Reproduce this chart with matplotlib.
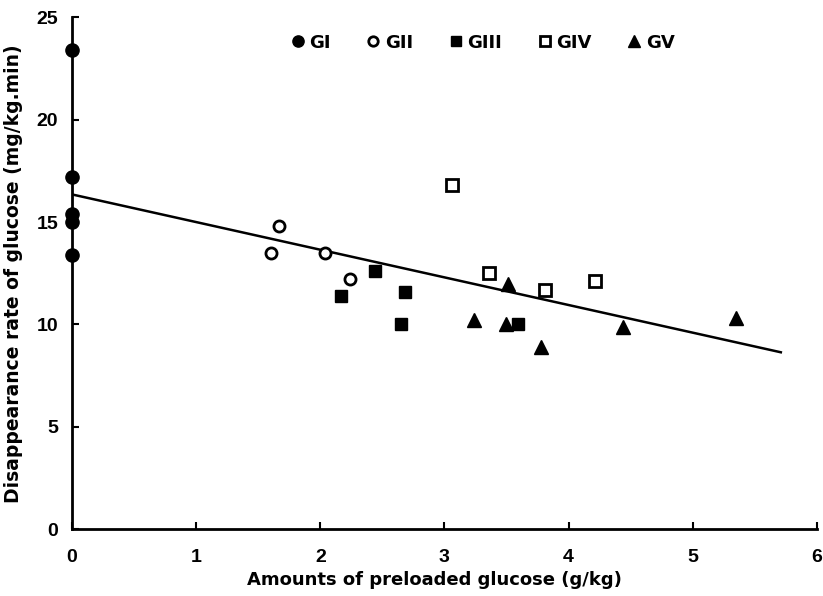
import matplotlib
matplotlib.use("Agg")
import matplotlib.pyplot as plt

plt.rcParams['font.family'] = ['DejaVu Sans']
plt.rcParams['font.weight'] = 'bold'

# Data
gI_x = [0.0, 0.0, 0.0, 0.0, 0.0]
gI_y = [23.4, 17.2, 15.4, 15.0, 13.4]
gII_x = [1.60, 1.67, 2.04, 2.24]
gII_y = [13.5, 14.8, 13.5, 12.2]
gIII_x = [2.17, 2.44, 2.68, 2.65, 3.59]
gIII_y = [11.4, 12.6, 11.6, 10.0, 10.0]
gIV_x = [3.06, 3.36, 3.81, 4.21]
gIV_y = [16.8, 12.5, 11.7, 12.1]
gV_x = [3.24, 3.51, 3.50, 3.78, 4.44, 5.35]
gV_y = [10.2, 12.0, 10.0, 8.9, 9.9, 10.3]

line_intercept = 16.35
line_slope = -1.35
line_x = [0.0, 5.71]

xticks = [0, 1, 2, 3, 4, 5, 6]
yticks = [0, 5, 10, 15, 20, 25]

fig = plt.figure(figsize=(8.23, 5.96), dpi=100)
ax = fig.add_axes([0.0875, 0.112, 0.905, 0.859])

ax.plot(line_x, [line_intercept + line_slope * v for v in line_x], color='black', lw=1.8, zorder=2)

kw = dict(color='black', linestyle='none', clip_on=False, zorder=3)
h1, = ax.plot(gI_x, gI_y, marker='o', markersize=9.5, markerfacecolor='black', label='GI', **kw)
h2, = ax.plot(gII_x, gII_y, marker='o', markersize=8, markerfacecolor='white', markeredgewidth=2, label='GII', **kw)
h3, = ax.plot(gIII_x, gIII_y, marker='s', markersize=8, markerfacecolor='black', label='GIII', **kw)
h4, = ax.plot(gIV_x, gIV_y, marker='s', markersize=8, markerfacecolor='white', markeredgewidth=2, label='GIV', **kw)
h5, = ax.plot(gV_x, gV_y, marker='^', markersize=9.5, markerfacecolor='black', label='GV', **kw)

ax.set_xlim(0, 6)
ax.set_ylim(0, 25)
ax.set_xticks(xticks)
ax.set_yticks(yticks)
ax.tick_params(direction='in', length=5, width=1.5, labelsize=14)
ax.tick_params(axis='x', pad=14.5)
ax.tick_params(axis='y', pad=10)
for lab in ax.get_xticklabels() + ax.get_yticklabels():
    lab.set_fontweight('bold')
    lab.set_fontfamily(['Liberation Sans', 'DejaVu Sans'])
ax.spines['top'].set_visible(False)
ax.spines['right'].set_visible(False)
ax.spines['left'].set_linewidth(2)
ax.spines['bottom'].set_linewidth(2)

ax.set_xlabel('Amounts of preloaded glucose (g/kg)', fontsize=13, fontweight='bold', labelpad=3.5, x=0.487)
ax.set_ylabel('Disappearance rate of glucose (mg/kg.min)', fontsize=13.5, fontweight='bold', labelpad=9.5)

leg = ax.legend(handles=[h1, h2, h3, h4, h5], ncol=5, frameon=False,
                loc='upper left', bbox_to_anchor=(0.269, 1.0),
                handletextpad=0.15, columnspacing=1.85, handlelength=1.0,
                markerscale=0.85,
                prop={'weight': 'bold', 'size': 13})

fig.savefig('out.png', dpi=100)
